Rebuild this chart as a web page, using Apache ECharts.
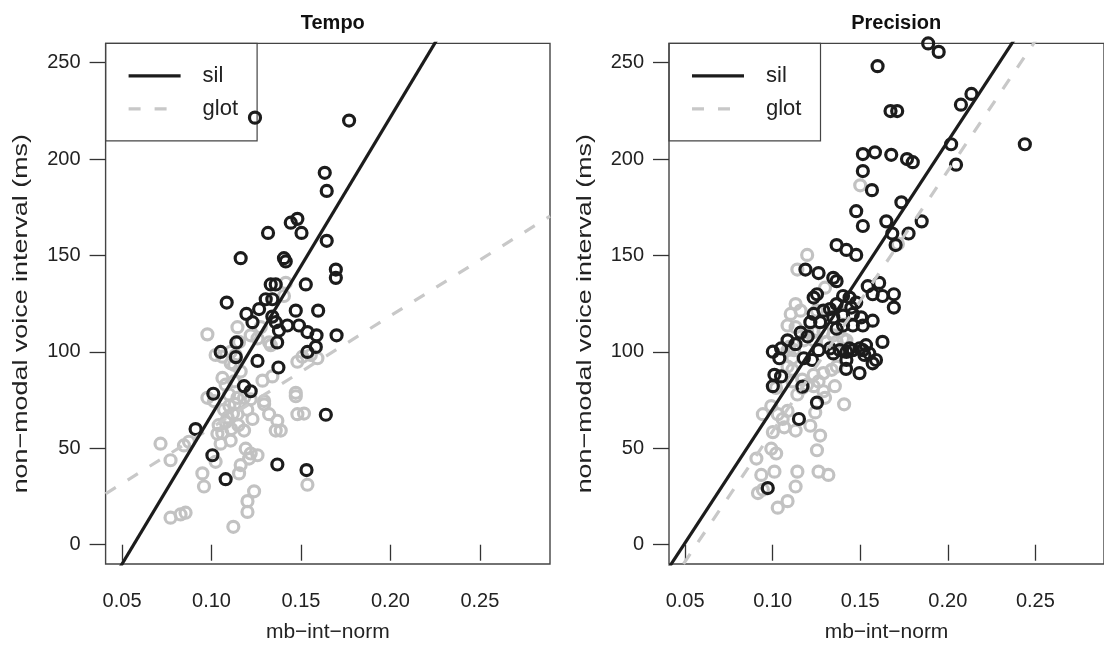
<!DOCTYPE html>
<html>
<head>
<meta charset="utf-8">
<script src="https://cdn.jsdelivr.net/npm/echarts@6/dist/echarts.min.js"></script>
<style>
html,body{margin:0;padding:0;background:#fff;}
#chart{width:1104px;height:648px;}
</style>
</head>
<body>
<div id="chart"></div>
<script>
// ---------- data ----------
const panelTitles = ['Tempo', 'Precision'];
const xTicks = [0.05, 0.10, 0.15, 0.20, 0.25];
const yTicks = [0, 50, 100, 150, 200, 250];
const xLabel = 'mb\u2212int\u2212norm';
const yLabel = 'non\u2212modal voice interval (ms)';
const legendNames = ['sil', 'glot'];

// Tempo: sil (black) points [mb-int-norm, ms]
const tempoSil = [
  [0.1243,221.5],[0.1769,220],[0.1633,192.9],[0.1644,183.5],[0.1443,167],[0.1480,169],[0.1503,161.7],[0.1316,161.7],[0.1644,157.6],
  [0.1163,148.6],[0.1405,148.6],[0.1415,146.9],[0.1695,142.7],[0.1695,138.4],[0.1527,135],[0.1331,135],[0.1359,135],
  [0.1085,125.6],[0.1303,127.3],[0.1340,127.3],[0.1266,122.2],[0.1195,119.7],[0.1471,121.4],[0.1596,121.4],[0.1340,118.3],
  [0.1359,115.4],[0.1229,115.4],[0.1424,113.7],[0.1489,113.7],[0.1377,111.1],[0.1536,110.3],[0.1587,108.6],[0.1699,108.6],
  [0.1139,104.9],[0.1367,104.9],[0.1051,100],[0.1583,102.6],[0.1536,100],[0.1136,97.3],[0.1257,95.3],[0.1374,91.9],
  [0.1010,78.3],[0.1219,79.6],[0.1182,82.2],[0.0911,60],[0.1005,46.4],[0.1079,34],[0.1368,41.6],[0.1531,38.7],[0.1639,67.4]
];
// Tempo: glot (grey) points
const tempoGlot = [
  [0.0715,52.4],[0.0771,43.8],[0.0846,51.5],[0.0874,53.4],[0.0949,37],[0.0958,30.2],[0.0771,14],[0.0827,15.7],[0.0855,16.6],
  [0.1023,43],[0.1536,31.1],[0.1238,27.7],[0.1201,22.6],[0.1201,17],[0.1122,9.3],[0.1257,46.4],[0.1210,44.7],[0.1163,41.3],
  [0.1154,37],[0.1480,67.7],[0.1517,68],[0.1359,59.2],[0.1387,59.2],[0.1368,64.3],[0.1322,67.7],[0.1294,72.8],[0.1471,77],
  [0.1033,57.5],[0.1079,63.5],[0.1107,54],[0.1051,52.4],[0.1145,67.7],[0.1182,59.2],[0.1229,65.2],[0.1191,49.8],[0.1219,47.3],
  [0.0977,109.1],[0.1145,112.8],[0.1275,112.8],[0.1415,135.8],[0.1405,129],[0.1219,108.6],[0.1257,107],[0.1322,104.9],
  [0.1331,103.5],[0.1023,98.4],[0.1061,97.5],[0.1107,100],[0.1135,98.4],[0.1480,94.9],[0.1508,97.5],[0.1555,98.4],
  [0.1592,96.7],[0.1285,85.1],[0.1340,87.3],[0.1471,78.8],[0.1079,83],[0.1126,84.7],[0.1098,77.9],[0.1145,76.2],
  [0.1182,76.2],[0.1219,75.4],[0.1294,74.5],[0.0977,76.2],[0.1014,74.5],[0.1163,89.8],[0.1126,93.3],[0.1061,86.5],
  [0.1154,105.2],[0.1107,94.1],[0.1070,70],[0.1100,72],[0.1120,68],[0.1090,66],[0.1130,73],[0.1040,62],[0.1150,62],
  [0.1110,60],[0.1200,70],[0.1060,58]
];
// Precision: sil (black) points
const precisionSil = [
  [0.1888,260],[0.1948,255.6],[0.1599,248.2],[0.2135,233.8],[0.2075,228.2],[0.1673,224.9],[0.1711,224.9],[0.2019,207.7],
  [0.2440,207.7],[0.2047,197.1],[0.1515,202.6],[0.1584,203.5],[0.1677,202.2],[0.1767,200],[0.1800,198.4],[0.1515,193.8],
  [0.1567,183.9],[0.1477,173],[0.1515,165.3],[0.1735,177.6],[0.1649,167.7],[0.1851,167.7],[0.1683,161.4],[0.1702,155.4],
  [0.1776,161.4],[0.1365,155.4],[0.1421,152.9],[0.1477,150.3],[0.1187,142.7],[0.1262,140.9],[0.1346,138.4],[0.1365,136.7],
  [0.1543,134.1],[0.1608,135.8],[0.1571,129.9],[0.1627,129],[0.1692,129.9],[0.1692,123],[0.1253,129.9],[0.1234,128.2],
  [0.1402,129],[0.1439,128.2],[0.1477,125.6],[0.1449,123],[0.1365,124.8],[0.1327,122.2],[0.1571,116.2],[0.1234,119.7],
  [0.1290,121.4],[0.1271,115.4],[0.1215,115.4],[0.1346,117.9],[0.1402,118.8],[0.1458,119.7],[0.1505,117.9],[0.1515,113.7],
  [0.1458,113.7],[0.1402,113.7],[0.1365,112],[0.1627,105.2],[0.1085,106],[0.1048,101.8],[0.1001,100.1],[0.1533,103.5],
  [0.1327,101.8],[0.1383,100.9],[0.1439,101.8],[0.1515,100.9],[0.1038,96.7],[0.1010,88.1],[0.1048,87.3],[0.1001,82.2],
  [0.1178,96.7],[0.1225,95.8],[0.1262,100.9],[0.1346,99.2],[0.1421,100],[0.1458,100.9],[0.1496,101.8],[0.1524,98.4],
  [0.1552,99.2],[0.1590,95.8],[0.1421,95.8],[0.1496,89],[0.1571,94.1],[0.1419,91.2],[0.1253,73.7],[0.1150,65.2],[0.0972,29.4],
  [0.1160,110],[0.1200,108],[0.1130,104],[0.1170,82]
];
// Precision: glot (grey) points
const precisionGlot = [
  [0.1500,186.4],[0.1715,156],[0.1197,150.3],[0.1141,142.7],[0.1299,133.3],[0.1131,124.8],[0.1103,119.7],[0.1159,121.4],
  [0.1253,121.4],[0.1402,119.7],[0.1085,113.7],[0.1131,112.8],[0.1197,110.3],[0.1234,110.3],[0.1290,110.3],[0.1346,108.6],
  [0.1402,106.9],[0.1178,106],[0.1234,106],[0.1309,105.2],[0.1365,105.2],[0.1421,106],[0.1094,102.6],[0.1122,100.9],
  [0.1085,100.9],[0.1113,96.7],[0.1085,92.4],[0.1113,90.7],[0.1019,81.3],[0.1234,88.1],[0.1262,84.7],[0.1197,83],
  [0.1169,85.6],[0.1234,82.2],[0.1290,89],[0.1337,90.7],[0.1365,92.4],[0.1355,82.2],[0.1290,79.6],[0.1141,77.9],
  [0.1169,81.3],[0.1113,84.7],[0.1243,68.6],[0.1299,76.2],[0.1408,72.8],[0.0944,67.7],[0.1029,67.7],[0.1057,65.2],
  [0.1085,69.4],[0.0992,71.9],[0.1001,58.4],[0.1066,60.9],[0.1131,59.2],[0.1215,61.7],[0.1271,56.6],[0.1253,49],
  [0.0907,44.7],[0.0992,49.8],[0.1020,47.3],[0.0935,36.2],[0.1010,37.9],[0.1141,37.9],[0.1131,30.2],[0.1262,37.9],
  [0.1318,36.2],[0.0916,26.8],[0.0944,28.5],[0.1085,22.6],[0.1029,19.2]
];
// regression fits: [intercept, slope]
const tempoSilFit = [-87.25, 1545];
const tempoGlotFit = [2.75, 579.7];
const precisionSilFit = [-68.4, 1388];
const precisionGlotFit = [-76.15, 1350];

// ---------- layout / style ----------
const X_MIN = 0.0408, X_MAX = 0.2892, Y_MIN = -10, Y_MAX = 260;
const FONT = '"Liberation Sans", Arial, Helvetica, sans-serif';
const BLACK = '#1c1c1c', GREY = '#c2c2c2';
const panels = [
  {left: 105.6, top: 43.4, width: 444.4, height: 528.6},
  {left: 669, top: 43.4, width: 444.4, height: 528.6}
];

function fitLine(fit) {
  return [X_MIN, X_MAX].map(x => [x, fit[0] + fit[1] * x]);
}

const chart = echarts.init(document.getElementById('chart'), null, {renderer: 'canvas'});

const grids = panels.map(p => ({
  left: p.left, top: p.top, width: p.width, height: p.height,
  show: true, borderColor: '#444', borderWidth: 1.4, backgroundColor: 'transparent', containLabel: false
}));

const xAxes = panels.map((p, i) => ({
  type: 'value', gridIndex: i, min: X_MIN, max: X_MAX,
  axisLine: {show: false},
  splitLine: {show: false},
  axisTick: {show: true, customValues: xTicks, length: 16, lineStyle: {color: '#333', width: 1.3}},
  axisLabel: {show: true, customValues: xTicks, formatter: v => v.toFixed(2), fontSize: 20, color: '#222', fontFamily: FONT, margin: 27},
  name: xLabel, nameLocation: 'middle', nameGap: 58,
  nameTextStyle: {fontSize: 21, color: '#222', fontFamily: FONT}
}));

const yAxes = panels.map((p, i) => ({
  type: 'value', gridIndex: i, min: Y_MIN, max: Y_MAX,
  axisLine: {show: false},
  splitLine: {show: false},
  axisTick: {show: true, customValues: yTicks, length: 16, lineStyle: {color: '#333', width: 1.3}},
  axisLabel: {show: true, customValues: yTicks, fontSize: 20, color: '#222', fontFamily: FONT, margin: 25}
}));

function scatter(data, idx, color) {
  return {
    type: 'scatter', xAxisIndex: idx, yAxisIndex: idx, data: data,
    symbol: 'circle', symbolSize: 11, clip: false, silent: true,
    itemStyle: {color: 'rgba(0,0,0,0)', borderColor: color, borderWidth: 3.2, opacity: 1},
    z: 2
  };
}
function line(fit, idx, color, dashed) {
  return {
    type: 'line', xAxisIndex: idx, yAxisIndex: idx, data: fitLine(fit),
    showSymbol: false, symbol: 'none', clip: true, silent: true,
    lineStyle: {color: color, width: 3.2, type: dashed ? [12, 14] : 'solid', cap: 'butt'},
    z: 3
  };
}

const series = [
  scatter(tempoGlot, 0, GREY), scatter(tempoSil, 0, BLACK),
  line(tempoGlotFit, 0, '#c8c8c8', true), line(tempoSilFit, 0, BLACK, false),
  scatter(precisionGlot, 1, GREY), scatter(precisionSil, 1, BLACK),
  line(precisionGlotFit, 1, '#c8c8c8', true), line(precisionSilFit, 1, BLACK, false)
];

// legend boxes + y-axis titles (graphics)
const graphics = [];
panels.forEach(p => {
  const x0 = p.left, y0 = p.top;
  graphics.push({type: 'rect', shape: {x: x0, y: y0, width: 151.5, height: 97.5},
    style: {fill: 'none', stroke: '#444', lineWidth: 1.2}, z: 1, silent: true});
  graphics.push({type: 'line', shape: {x1: x0 + 23, y1: y0 + 32.5, x2: x0 + 75, y2: y0 + 32.5},
    style: {stroke: BLACK, lineWidth: 3.2}, z: 5, silent: true});
  graphics.push({type: 'line', shape: {x1: x0 + 23, y1: y0 + 65.5, x2: x0 + 75, y2: y0 + 65.5},
    style: {stroke: '#c8c8c8', lineWidth: 3.2, lineDash: [12, 14]}, z: 5, silent: true});
  graphics.push({type: 'text', x: x0 + 97, y: y0 + 32.5,
    style: {text: legendNames[0], font: '22px ' + FONT, fill: '#222', verticalAlign: 'middle'}, z: 5, silent: true});
  graphics.push({type: 'text', x: x0 + 97, y: y0 + 65.5,
    style: {text: legendNames[1], font: '22px ' + FONT, fill: '#222', verticalAlign: 'middle'}, z: 5, silent: true});
  // y-axis title, rotated
  graphics.push({type: 'text', x: x0 - 84, y: p.top + p.height / 2 + 6, rotation: Math.PI / 2, scaleX: 1.28,
    style: {text: yLabel, font: '21px ' + FONT, fill: '#222', align: 'center', verticalAlign: 'middle'}, z: 5, silent: true});
});

chart.setOption({
  backgroundColor: '#fff',
  animation: false,
  title: panels.map((p, i) => ({
    text: panelTitles[i], left: p.left + 444.4 / 2, top: 8, textAlign: 'center',
    textStyle: {fontSize: 20, fontWeight: 'bold', color: '#111', fontFamily: FONT}
  })),
  grid: grids,
  xAxis: xAxes,
  yAxis: yAxes,
  series: series,
  graphic: graphics
});
</script>
</body>
</html>
